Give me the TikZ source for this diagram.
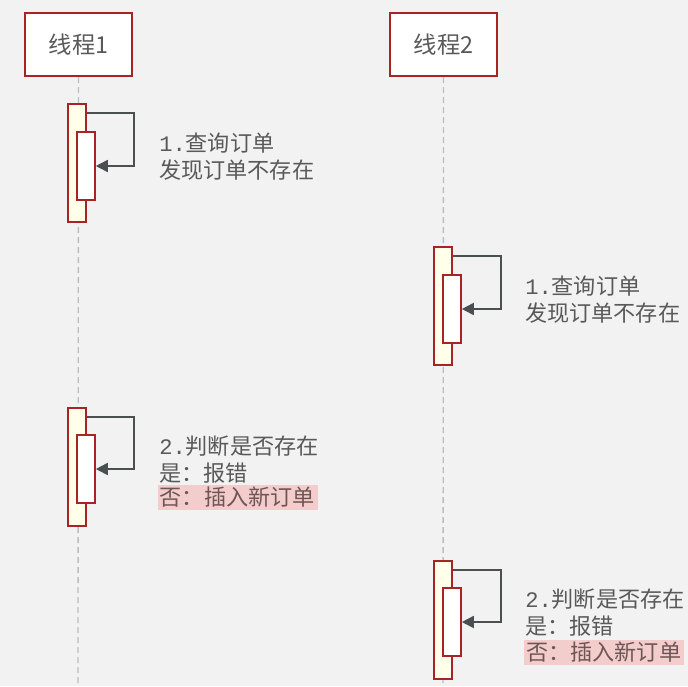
\documentclass[tikz,border=0pt]{standalone}
\usepackage{fontspec}
\setmainfont{Noto Sans CJK SC}
\newfontfamily\monofnt{Liberation Mono}
\usetikzlibrary{arrows.meta}
\definecolor{bgc}{HTML}{F2F2F2}
\definecolor{redb}{HTML}{A82424}
\definecolor{actfill}{HTML}{FFFFEA}
\definecolor{txtc}{HTML}{595959}
\definecolor{arrc}{HTML}{4A5050}
\definecolor{lifec}{HTML}{BDBDBD}
\definecolor{hlc}{HTML}{F3CCCC}
\definecolor{hltxt}{HTML}{6E5656}
\tikzset{
  headbox/.style={draw=redb, line width=1.5pt, fill=white, minimum width=80.25pt, minimum height=47.25pt, inner sep=0pt, font=\fontsize{17.5}{19}\selectfont, text=txtc},
  outerbox/.style={draw=redb, line width=1.2pt, fill=actfill, minimum width=13.5pt, minimum height=88.5pt, inner sep=0pt},
  innerbox/.style={draw=redb, line width=1.2pt, fill=white, minimum width=13.5pt, minimum height=51pt, inner sep=0pt},
  lifeline/.style={draw=lifec, line width=1pt, dash pattern=on 4.5pt off 3pt},
  selfloop/.style={draw=arrc, line width=1.3pt, -{Triangle[length=9pt,width=9pt]}},
  note/.style={anchor=west, inner xsep=1.5pt, inner ysep=0pt, minimum height=18.75pt, text=txtc, font=\fontsize{16.6}{18}\selectfont},
  hlnote/.style={note, fill=hlc, text=hltxt, text width=117pt, align=left}
}
\begin{document}
\begin{tikzpicture}[x=0.75pt,y=-0.75pt]
\fill[bgc] (0,0) rectangle (688,686);
\useasboundingbox (0,0) rectangle (688,686);
% headers
\node[headbox] (h1) at (78.5,44.5) {线程1};
\node[headbox] (h2) at (443.5,44.5) {线程2};
\coordinate (e1) at (78,686);
\coordinate (e2) at (443,686);
\draw[lifeline] (h1.south) -- (e1);
\draw[lifeline] (h2.south) -- (e2);
% thread 1, step 1
\node[outerbox] (o1) at (77,163) {};
\node[innerbox] (i1) at (86,166) {};
\draw[selfloop] ([yshift=-7.5pt]o1.north east) -- ++(47,0) |- (i1.east);
\node[note] (t1a) at (157,143) {{\monofnt 1.}查询订单};
\node[note] (t1b) at (157,170) {发现订单不存在};
% thread 2, step 1
\node[outerbox] (o2) at (443,306) {};
\node[innerbox] (i2) at (452,309) {};
\draw[selfloop] ([yshift=-7.5pt]o2.north east) -- ++(48,0) |- (i2.east);
\node[note] (t2a) at (523,286) {{\monofnt 1.}查询订单};
\node[note] (t2b) at (523,313) {发现订单不存在};
% thread 1, step 2
\node[outerbox] (o3) at (77,467) {};
\node[innerbox] (i3) at (86,469) {};
\draw[selfloop] ([yshift=-7.5pt]o3.north east) -- ++(47,0) |- (i3.east);
\node[note] (t3a) at (157,446) {{\monofnt 2.}判断是否存在};
\node[note] (t3b) at (157,473) {是：报错};
\node[hlnote] (t3c) at (157.5,497.5) {否：插入新订单};
% thread 2, step 2
\node[outerbox] (o4) at (443,620) {};
\node[innerbox] (i4) at (452,622) {};
\draw[selfloop] ([yshift=-7.5pt]o4.north east) -- ++(48,0) |- (i4.east);
\node[note] (t4a) at (523,599) {{\monofnt 2.}判断是否存在};
\node[note] (t4b) at (523,626) {是：报错};
\node[hlnote] (t4c) at (524,652.5) {否：插入新订单};
\end{tikzpicture}
\end{document}
